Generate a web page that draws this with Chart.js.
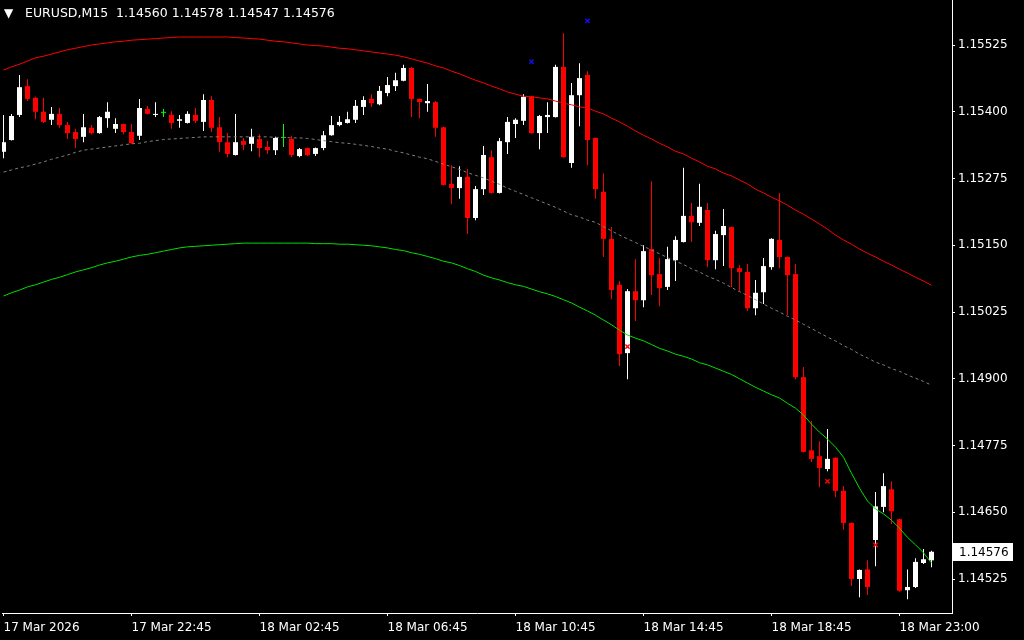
<!DOCTYPE html>
<html>
<head>
<meta charset="utf-8">
<title>EURUSD,M15</title>
<script src="https://cdn.jsdelivr.net/npm/chart.js@4.4.1/dist/chart.umd.min.js"></script>
<style>
  html, body { margin: 0; padding: 0; background: #000; }
  #wrap { position: relative; width: 1024px; height: 640px; overflow: hidden; }
  #chart { display: block; }
  #hdr { position: absolute; left: 4px; top: 5px; color: #fff; font: 12.5px "DejaVu Sans", sans-serif; white-space: pre; line-height: 16px; }
  #hdr .tri { display: inline-block; width: 21px; font-size: 12px; }
</style>
</head>
<body>
<div id="wrap">
  <canvas id="chart" width="1024" height="640"></canvas>
  <div id="hdr"></div>
</div>
<script>
const symbol = "EURUSD";
const timeframe = "M15";

// candles, one per 15 min bar (index 0 = 17 Mar 18:45)
const opens = [
  1.15325, 1.15347, 1.15394, 1.15448, 1.15426, 1.15400, 1.15385, 1.15396, 1.15375, 1.15362,
  1.15353, 1.15370, 1.15360, 1.15388, 1.15368, 1.15377, 1.15362, 1.15355, 1.15405, 1.15394,
  1.15398, 1.15394, 1.15383, 1.15379, 1.15394, 1.15381, 1.15422, 1.15371, 1.15343, 1.15319,
  1.15345, 1.15340, 1.15349, 1.15334, 1.15328, 1.15351, 1.15349, 1.15317, 1.15332, 1.15321,
  1.15332, 1.15356, 1.15375, 1.15379, 1.15385, 1.15409, 1.15424, 1.15414, 1.15435, 1.15448,
  1.15458, 1.15482, 1.15424, 1.15416, 1.15418, 1.15371, 1.15265, 1.15257, 1.15278, 1.15201,
  1.15255, 1.15315, 1.15248, 1.15343, 1.15377, 1.15383, 1.15429, 1.15360, 1.15390, 1.15390,
  1.15484, 1.15304, 1.15431, 1.15469, 1.15351, 1.15250, 1.15162, 1.15076, 1.14948, 1.15064,
  1.15047, 1.15143, 1.15096, 1.15072, 1.15122, 1.15156, 1.15205, 1.15192, 1.15216, 1.15122,
  1.15169, 1.15184, 1.15107, 1.15100, 1.15032, 1.15062, 1.15109, 1.15160, 1.15128, 1.15096,
  1.14903, 1.14766, 1.14755, 1.14731, 1.14752, 1.14690, 1.14630, 1.14525, 1.14543, 1.14598,
  1.14660, 1.14693, 1.14637, 1.14504, 1.14510, 1.14555, 1.14560
];
const highs = [
  1.15394, 1.15396, 1.15469, 1.15461, 1.15428, 1.15426, 1.15409, 1.15407, 1.15381, 1.15368,
  1.15396, 1.15375, 1.15392, 1.15418, 1.15388, 1.15378, 1.15377, 1.15424, 1.15411, 1.15418,
  1.15405, 1.15401, 1.15394, 1.15401, 1.15407, 1.15433, 1.15429, 1.15390, 1.15360, 1.15396,
  1.15351, 1.15368, 1.15358, 1.15345, 1.15353, 1.15377, 1.15355, 1.15332, 1.15333, 1.15333,
  1.15364, 1.15392, 1.15392, 1.15400, 1.15422, 1.15429, 1.15433, 1.15448, 1.15465, 1.15473,
  1.15488, 1.15484, 1.15425, 1.15452, 1.15420, 1.15372, 1.15300, 1.15298, 1.15293, 1.15261,
  1.15336, 1.15328, 1.15351, 1.15390, 1.15388, 1.15433, 1.15430, 1.15394, 1.15418, 1.15488,
  1.15547, 1.15454, 1.15491, 1.15476, 1.15352, 1.15285, 1.15184, 1.15083, 1.15068, 1.15124,
  1.15150, 1.15270, 1.15126, 1.15147, 1.15167, 1.15295, 1.15229, 1.15265, 1.15229, 1.15177,
  1.15218, 1.15185, 1.15113, 1.15115, 1.15085, 1.15126, 1.15163, 1.15248, 1.15129, 1.15115,
  1.14922, 1.14821, 1.14783, 1.14806, 1.14753, 1.14699, 1.14631, 1.14543, 1.14560, 1.14688,
  1.14723, 1.14708, 1.14638, 1.14543, 1.14564, 1.14581, 1.14578
];
const lows = [
  1.15313, 1.15346, 1.15390, 1.15420, 1.15386, 1.15379, 1.15375, 1.15370, 1.15349, 1.15332,
  1.15343, 1.15358, 1.15359, 1.15370, 1.15360, 1.15358, 1.15340, 1.15347, 1.15395, 1.15390,
  1.15390, 1.15368, 1.15370, 1.15378, 1.15379, 1.15364, 1.15362, 1.15325, 1.15315, 1.15318,
  1.15328, 1.15326, 1.15315, 1.15321, 1.15319, 1.15334, 1.15315, 1.15315, 1.15317, 1.15317,
  1.15328, 1.15355, 1.15373, 1.15378, 1.15379, 1.15394, 1.15409, 1.15412, 1.15429, 1.15439,
  1.15457, 1.15390, 1.15388, 1.15400, 1.15353, 1.15262, 1.15227, 1.15237, 1.15171, 1.15197,
  1.15244, 1.15247, 1.15247, 1.15321, 1.15351, 1.15375, 1.15359, 1.15330, 1.15360, 1.15389,
  1.15314, 1.15295, 1.15373, 1.15300, 1.15237, 1.15128, 1.15049, 1.14924, 1.14899, 1.15008,
  1.15034, 1.15057, 1.15036, 1.15066, 1.15083, 1.15155, 1.15156, 1.15186, 1.15109, 1.15105,
  1.15111, 1.15072, 1.15064, 1.15027, 1.15019, 1.15040, 1.15104, 1.15107, 1.15019, 1.14899,
  1.14762, 1.14744, 1.14697, 1.14727, 1.14678, 1.14617, 1.14512, 1.14491, 1.14495, 1.14549,
  1.14650, 1.14628, 1.14501, 1.14487, 1.14508, 1.14553, 1.14547
];
const closes = [
  1.15343, 1.15392, 1.15446, 1.15424, 1.15400, 1.15381, 1.15396, 1.15375, 1.15360, 1.15349,
  1.15371, 1.15360, 1.15390, 1.15400, 1.15377, 1.15362, 1.15341, 1.15407, 1.15396, 1.15396,
  1.15398, 1.15379, 1.15386, 1.15396, 1.15383, 1.15422, 1.15370, 1.15343, 1.15321, 1.15343,
  1.15338, 1.15353, 1.15332, 1.15328, 1.15351, 1.15351, 1.15319, 1.15330, 1.15319, 1.15332,
  1.15356, 1.15375, 1.15381, 1.15386, 1.15411, 1.15422, 1.15416, 1.15439, 1.15450, 1.15459,
  1.15482, 1.15424, 1.15418, 1.15420, 1.15370, 1.15263, 1.15257, 1.15278, 1.15201, 1.15255,
  1.15319, 1.15248, 1.15345, 1.15381, 1.15385, 1.15428, 1.15360, 1.15392, 1.15394, 1.15484,
  1.15315, 1.15431, 1.15463, 1.15347, 1.15255, 1.15162, 1.15066, 1.14946, 1.15064, 1.15047,
  1.15139, 1.15094, 1.15070, 1.15124, 1.15160, 1.15205, 1.15193, 1.15222, 1.15122, 1.15171,
  1.15186, 1.15107, 1.15100, 1.15032, 1.15061, 1.15111, 1.15162, 1.15128, 1.15094, 1.14903,
  1.14763, 1.14750, 1.14733, 1.14750, 1.14690, 1.14630, 1.14525, 1.14542, 1.14510, 1.14661,
  1.14699, 1.14652, 1.14503, 1.14510, 1.14557, 1.14562, 1.14576
];

// envelope lines
const upperBand = [
  1.15478, 1.15484, 1.15489, 1.15495, 1.15501, 1.15504, 1.15508, 1.15512, 1.15516, 1.15519,
  1.15522, 1.15525, 1.15527, 1.15529, 1.15531, 1.15532, 1.15534, 1.15535, 1.15536, 1.15537,
  1.15538, 1.15539, 1.15540, 1.15540, 1.15540, 1.15540, 1.15540, 1.15540, 1.15540, 1.15539,
  1.15538, 1.15537, 1.15536, 1.15534, 1.15532, 1.15531, 1.15529, 1.15527, 1.15525, 1.15524,
  1.15523, 1.15521, 1.15519, 1.15518, 1.15516, 1.15514, 1.15512, 1.15510, 1.15508, 1.15506,
  1.15503, 1.15499, 1.15495, 1.15491, 1.15486, 1.15482, 1.15476, 1.15471, 1.15465, 1.15459,
  1.15454, 1.15448, 1.15443, 1.15437, 1.15433, 1.15429, 1.15428, 1.15426, 1.15424, 1.15420,
  1.15416, 1.15413, 1.15409, 1.15407, 1.15401, 1.15396, 1.15388, 1.15381, 1.15373, 1.15364,
  1.15356, 1.15349, 1.15341, 1.15334, 1.15326, 1.15321, 1.15313, 1.15306, 1.15298, 1.15293,
  1.15285, 1.15280, 1.15272, 1.15265, 1.15255, 1.15248, 1.15240, 1.15233, 1.15225, 1.15216,
  1.15208, 1.15199, 1.15190, 1.15180, 1.15169, 1.15160, 1.15152, 1.15143, 1.15135, 1.15128,
  1.15120, 1.15113, 1.15105, 1.15098, 1.15090, 1.15083, 1.15075
];
const middleBand = [
  1.15287, 1.15291, 1.15295, 1.15298, 1.15302, 1.15306, 1.15311, 1.15315, 1.15319, 1.15324,
  1.15328, 1.15330, 1.15332, 1.15334, 1.15336, 1.15338, 1.15340, 1.15341, 1.15344, 1.15346,
  1.15348, 1.15349, 1.15350, 1.15351, 1.15352, 1.15353, 1.15353, 1.15353, 1.15353, 1.15353,
  1.15353, 1.15353, 1.15353, 1.15353, 1.15352, 1.15352, 1.15351, 1.15351, 1.15350, 1.15348,
  1.15346, 1.15344, 1.15342, 1.15341, 1.15339, 1.15337, 1.15335, 1.15332, 1.15330, 1.15326,
  1.15323, 1.15319, 1.15315, 1.15312, 1.15307, 1.15302, 1.15297, 1.15292, 1.15286, 1.15281,
  1.15276, 1.15270, 1.15264, 1.15257, 1.15251, 1.15245, 1.15239, 1.15233, 1.15227, 1.15221,
  1.15214, 1.15207, 1.15203, 1.15197, 1.15193, 1.15185, 1.15177, 1.15169, 1.15162, 1.15155,
  1.15148, 1.15141, 1.15134, 1.15127, 1.15120, 1.15114, 1.15106, 1.15100, 1.15092, 1.15086,
  1.15079, 1.15071, 1.15063, 1.15056, 1.15048, 1.15040, 1.15032, 1.15025, 1.15017, 1.15010,
  1.15002, 1.14994, 1.14986, 1.14978, 1.14971, 1.14962, 1.14955, 1.14946, 1.14939, 1.14931,
  1.14926, 1.14919, 1.14914, 1.14907, 1.14901, 1.14895, 1.14888
];
const lowerBand = [
  1.15055, 1.15061, 1.15066, 1.15072, 1.15076, 1.15081, 1.15086, 1.15090, 1.15095, 1.15100,
  1.15104, 1.15108, 1.15113, 1.15117, 1.15120, 1.15124, 1.15128, 1.15131, 1.15133, 1.15136,
  1.15139, 1.15142, 1.15145, 1.15147, 1.15148, 1.15149, 1.15150, 1.15151, 1.15152, 1.15153,
  1.15154, 1.15154, 1.15154, 1.15154, 1.15154, 1.15154, 1.15154, 1.15154, 1.15154, 1.15153,
  1.15153, 1.15153, 1.15152, 1.15152, 1.15151, 1.15150, 1.15149, 1.15147, 1.15145, 1.15142,
  1.15140, 1.15136, 1.15133, 1.15129, 1.15125, 1.15120, 1.15117, 1.15112, 1.15106, 1.15101,
  1.15094, 1.15089, 1.15085, 1.15080, 1.15076, 1.15073, 1.15068, 1.15063, 1.15059, 1.15054,
  1.15048, 1.15042, 1.15034, 1.15027, 1.15019, 1.15010, 1.15001, 1.14991, 1.14982, 1.14976,
  1.14971, 1.14964, 1.14957, 1.14952, 1.14946, 1.14942, 1.14937, 1.14930, 1.14926, 1.14920,
  1.14914, 1.14908, 1.14900, 1.14892, 1.14884, 1.14877, 1.14870, 1.14864, 1.14854, 1.14845,
  1.14832, 1.14815, 1.14800, 1.14787, 1.14772, 1.14753, 1.14723, 1.14695, 1.14671, 1.14656,
  1.14647, 1.14635, 1.14620, 1.14603, 1.14589, 1.14574, 1.14555
];

// cross signals: bar index and price
const blueMarkBars = [66, 73];
const blueMarkPrices = [1.15494, 1.15570];
const redMarkBars = [78, 103, 109];
const redMarkPrices = [1.14960, 1.14708, 1.14589];

const tickIndex = [0, 16, 32, 48, 64, 80, 96, 112];
const tickLabels = ["17 Mar 2026", "17 Mar 22:45", "18 Mar 02:45", "18 Mar 06:45",
                    "18 Mar 10:45", "18 Mar 14:45", "18 Mar 18:45", "18 Mar 23:00"];
const priceTicks = [1.14525, 1.14650, 1.14775, 1.14900, 1.15025, 1.15150, 1.15275, 1.15400, 1.15525];

const FONT = { family: "'DejaVu Sans', sans-serif", size: 12 };
const BULL = "#ffffff";
const BEAR = "#ff0000";
const DOJI = "#00ff00";

const last = closes.length - 1;
document.getElementById("hdr").innerHTML =
  '<span class="tri">\u25BC</span>' + symbol + "," + timeframe + "  " +
  [opens[last], highs[last], lows[last], closes[last]].map(v => v.toFixed(5)).join(" ");

const idx = opens.map((_, i) => i);
const candleColor = idx.map(i =>
  closes[i] > opens[i] ? BULL : (closes[i] < opens[i] ? BEAR : DOJI));

// no label overflow padding, the plot runs edge to edge
const noPad = (s) => { s.paddingTop = 0; s.paddingBottom = 0; s.paddingLeft = 0; s.paddingRight = 0; };

// last price box on the price scale
const lastPriceBox = {
  id: "lastPriceBox",
  afterDraw(chart) {
    const { ctx, scales: { y } } = chart;
    const price = closes[last];
    const py = Math.round(y.getPixelForValue(price));
    ctx.save();
    ctx.fillStyle = "#fff";
    ctx.fillRect(y.left + 1, py - 9, 60, 18);
    ctx.fillStyle = "#000";
    ctx.font = "12px 'DejaVu Sans', sans-serif";
    ctx.textBaseline = "middle";
    ctx.fillText(price.toFixed(5), y.left + 7, py + 1);
    ctx.restore();
  }
};

new Chart(document.getElementById("chart"), {
  type: "bar",
  data: {
    datasets: [
      {
        type: "scatter",
        data: blueMarkBars.map((b, i) => ({ x: b, y: blueMarkPrices[i] })),
        pointStyle: "crossRot",
        pointRadius: 3,
        borderColor: "#1010e8",
        borderWidth: 1.5,
        order: 0
      },
      {
        type: "scatter",
        data: redMarkBars.map((b, i) => ({ x: b, y: redMarkPrices[i] })),
        pointStyle: "crossRot",
        pointRadius: 3,
        borderColor: "#ff0000",
        borderWidth: 1.5,
        order: 0
      },
      {
        type: "line",
        data: idx.map(i => ({ x: i, y: upperBand[i] })),
        borderColor: "#ff0000",
        borderWidth: 1,
        pointRadius: 0,
        order: 1
      },
      {
        type: "line",
        data: idx.map(i => ({ x: i, y: middleBand[i] })),
        borderColor: "#808080",
        borderWidth: 1,
        borderDash: [3, 3],
        pointRadius: 0,
        order: 1
      },
      {
        type: "line",
        data: idx.map(i => ({ x: i, y: lowerBand[i] })),
        borderColor: "#00e000",
        borderWidth: 1,
        pointRadius: 0,
        order: 1
      },
      {
        label: "bodies",
        data: idx.map(i => ({ x: i, y: [opens[i], closes[i]] })),
        backgroundColor: candleColor,
        barThickness: 5,
        minBarLength: 1,
        inflateAmount: 0,
        grouped: false,
        order: 2
      },
      {
        label: "wicks",
        data: idx.map(i => ({ x: i, y: [lows[i], highs[i]] })),
        backgroundColor: candleColor,
        barThickness: 1,
        inflateAmount: 0,
        grouped: false,
        order: 3
      }
    ]
  },
  options: {
    responsive: false,
    animation: false,
    events: [],
    layout: { autoPadding: false, padding: { left: 2, top: 0, right: 0, bottom: 0 } },
    plugins: { legend: { display: false }, tooltip: { enabled: false } },
    scales: {
      x: {
        type: "linear",
        min: -0.1875,
        max: 118.5625,
        offset: false,
        grid: { offset: false, drawOnChartArea: false, drawTicks: true, tickLength: 3, color: "#fff" },
        border: { display: true, color: "#fff" },
        ticks: {
          autoSkip: false,
          maxRotation: 0,
          align: "start",
          color: "#fff",
          font: FONT,
          padding: 5,
          callback: (v, i) => tickLabels[i]
        },
        afterBuildTicks: (s) => { s.ticks = tickIndex.map(v => ({ value: v })); },
        afterFit: (s) => { s.height = 27; noPad(s); }
      },
      y: {
        position: "right",
        min: 1.1446133,
        max: 1.1560927,
        grid: { drawOnChartArea: false, drawTicks: true, tickLength: 3, color: "#fff" },
        border: { display: true, color: "#fff" },
        ticks: {
          color: "#fff",
          font: FONT,
          padding: 3,
          callback: (v) => Number(v).toFixed(5)
        },
        afterBuildTicks: (s) => { s.ticks = priceTicks.map(v => ({ value: v })); },
        afterFit: (s) => { s.width = 72; noPad(s); }
      }
    }
  },
  plugins: [lastPriceBox]
});
</script>
</body>
</html>
